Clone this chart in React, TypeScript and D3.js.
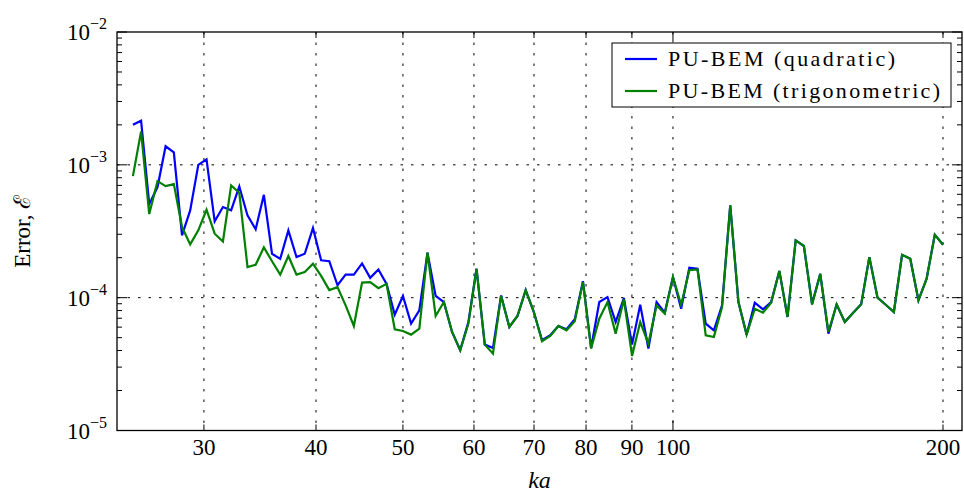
import React from "react";
import * as d3 from "d3";

// ka sample points (log-spaced)
const ka = [
  25.0, 25.53, 26.07, 26.63, 27.19, 27.77, 28.36, 28.96, 29.57, 30.2,
  30.84, 31.5, 32.17, 32.85, 33.55, 34.26, 34.99, 35.73, 36.49, 37.26,
  38.05, 38.86, 39.69, 40.53, 41.39, 42.27, 43.16, 44.08, 45.02, 45.97,
  46.95, 47.94, 48.96, 50.0, 51.06, 52.15, 53.25, 54.38, 55.54, 56.72,
  57.92, 59.15, 60.4, 61.69, 63.0, 64.33, 65.7, 67.09, 68.52, 69.97,
  71.46, 72.97, 74.52, 76.1, 77.72, 79.37, 81.05, 82.77, 84.53, 86.32,
  88.16, 90.03, 91.94, 93.89, 95.88, 97.92, 100.0, 102.12, 104.29, 106.5,
  108.77, 111.07, 113.43, 115.84, 118.3, 120.81, 123.37, 125.99, 128.67, 131.4,
  134.19, 137.03, 139.94, 142.91, 145.95, 149.04, 152.21, 155.44, 158.74, 162.11,
  165.55, 169.06, 172.65, 176.31, 180.06, 183.88, 187.78, 191.77, 195.84, 200.0,
];

const quadratic = [
  2.0e-3, 2.15e-3, 5.06e-4, 6.8e-4, 1.38e-3, 1.24e-3, 2.94e-4, 4.54e-4, 1.0e-3, 1.1e-3,
  3.75e-4, 4.81e-4, 4.54e-4, 6.87e-4, 4.16e-4, 3.27e-4, 5.95e-4, 2.14e-4, 1.96e-4, 3.21e-4,
  2.02e-4, 2.14e-4, 3.34e-4, 1.91e-4, 1.88e-4, 1.24e-4, 1.49e-4, 1.49e-4, 1.81e-4, 1.41e-4,
  1.63e-4, 1.27e-4, 7.45e-5, 1.03e-4, 6.38e-5, 8.03e-5, 2.18e-4, 1.03e-4, 9.27e-5, 5.52e-5,
  4.02e-5, 6.56e-5, 1.65e-4, 4.43e-5, 4.18e-5, 1.04e-4, 6.02e-5, 7.28e-5, 1.14e-4, 7.8e-5,
  4.78e-5, 5.21e-5, 6.12e-5, 5.78e-5, 6.87e-5, 1.33e-4, 4.18e-5, 9.27e-5, 1.01e-4, 6.56e-5,
  9.94e-5, 4.43e-5, 8.85e-5, 4.14e-5, 9.27e-5, 7.71e-5, 1.43e-4, 8.26e-5, 1.68e-4, 1.65e-4,
  6.38e-5, 5.68e-5, 8.75e-5, 4.95e-4, 9.27e-5, 5.27e-5, 9.17e-5, 8.17e-5, 9.27e-5, 1.59e-4,
  7.16e-5, 2.7e-4, 2.45e-4, 9.01e-5, 1.51e-4, 5.36e-5, 8.91e-5, 6.56e-5, 7.67e-5, 8.91e-5,
  2.02e-4, 1.0e-4, 8.85e-5, 7.8e-5, 2.1e-4, 1.96e-4, 9.55e-5, 1.39e-4, 2.98e-4, 2.5e-4,
];

const trigonometric = [
  8.22e-4, 1.78e-3, 4.26e-4, 7.54e-4, 6.92e-4, 7.16e-4, 3.4e-4, 2.52e-4, 3.21e-4, 4.59e-4,
  3.03e-4, 2.65e-4, 7.0e-4, 6.16e-4, 1.7e-4, 1.77e-4, 2.39e-4, 1.88e-4, 1.49e-4, 2.06e-4,
  1.49e-4, 1.56e-4, 1.8e-4, 1.46e-4, 1.14e-4, 1.2e-4, 8.75e-5, 6.12e-5, 1.3e-4, 1.31e-4,
  1.18e-4, 1.27e-4, 5.78e-5, 5.61e-5, 5.27e-5, 5.85e-5, 2.18e-4, 7.28e-5, 9.27e-5, 5.52e-5,
  4.02e-5, 6.38e-5, 1.65e-4, 4.43e-5, 3.79e-5, 1.03e-4, 6.02e-5, 7.28e-5, 1.14e-4, 7.8e-5,
  4.7e-5, 5.15e-5, 6.12e-5, 5.68e-5, 6.64e-5, 1.31e-4, 4.14e-5, 6.95e-5, 9.27e-5, 5.36e-5,
  9.71e-5, 3.64e-5, 6.56e-5, 4.51e-5, 8.75e-5, 7.58e-5, 1.43e-4, 8.85e-5, 1.61e-4, 1.63e-4,
  5.21e-5, 5.06e-5, 8.5e-5, 4.95e-4, 9.27e-5, 5.27e-5, 8.26e-5, 7.71e-5, 9.17e-5, 1.59e-4,
  7.16e-5, 2.7e-4, 2.45e-4, 8.85e-5, 1.51e-4, 5.52e-5, 8.91e-5, 6.56e-5, 7.67e-5, 8.91e-5,
  2.02e-4, 1.0e-4, 8.85e-5, 7.8e-5, 2.1e-4, 1.96e-4, 9.55e-5, 1.39e-4, 2.98e-4, 2.5e-4,
];

const xTicks = [30, 40, 50, 60, 70, 80, 90, 100, 200];
const yDecades = [1e-5, 1e-4, 1e-3, 1e-2];
const yExponents = ["−5", "−4", "−3", "−2"];
const seriesNames = ["PU-BEM (quadratic)", "PU-BEM (trigonometric)"];
const legendWidths = [227, 272];

const W = 964;
const H = 495;
const font = "'Liberation Serif', 'DejaVu Serif', serif";

export default function App() {
  const left = 117, right = 962, top = 32, bottom = 430.5;

  const x = d3.scaleLog().domain([24, 210]).range([left, right]);
  const y = d3.scaleLog().domain([1e-5, 1e-2]).range([bottom, top]);

  const line = d3
    .line<number>()
    .x((_, i) => x(ka[i]))
    .y(v => y(v));

  // minor ticks 2..9 in each decade
  const yMinor: number[] = [];
  [1e-5, 1e-4, 1e-3].forEach(d => {
    for (let k = 2; k <= 9; k++) yMinor.push(d * k);
  });

  const grid = { stroke: "#000", strokeWidth: 1, strokeDasharray: "2.5 8" };

  return (
    <svg
      width={W}
      height={H}
      style={{ position: "absolute", left: 0, top: 0, background: "#fff" }}
      fontFamily={font}
    >
      {/* grid */}
      {xTicks.map(t => (
        <line key={"gx" + t} x1={x(t)} x2={x(t)} y1={top} y2={bottom} {...grid} />
      ))}
      {yDecades.slice(1, 3).map(t => (
        <line key={"gy" + t} x1={left} x2={right} y1={y(t)} y2={y(t)} {...grid} />
      ))}

      {/* data */}
      <path d={line(quadratic) || ""} fill="none" stroke="#0000ff" strokeWidth={2.2} />
      <path d={line(trigonometric) || ""} fill="none" stroke="#008000" strokeWidth={2.2} />

      {/* ticks */}
      {xTicks.map(t => {
        const len = t === 100 ? 10 : 6;
        return (
          <g key={"tx" + t}>
            <line x1={x(t)} x2={x(t)} y1={bottom} y2={bottom - len} stroke="#000" strokeWidth={1} />
            <line x1={x(t)} x2={x(t)} y1={top} y2={top + len} stroke="#000" strokeWidth={1} />
          </g>
        );
      })}
      {yDecades.map(t => (
        <g key={"ty" + t}>
          <line x1={left} x2={left + 10} y1={y(t)} y2={y(t)} stroke="#000" strokeWidth={1} />
          <line x1={right} x2={right - 10} y1={y(t)} y2={y(t)} stroke="#000" strokeWidth={1} />
        </g>
      ))}
      {yMinor.map(t => (
        <g key={"tm" + t}>
          <line x1={left} x2={left + 5} y1={y(t)} y2={y(t)} stroke="#000" strokeWidth={1} />
          <line x1={right} x2={right - 5} y1={y(t)} y2={y(t)} stroke="#000" strokeWidth={1} />
        </g>
      ))}

      {/* frame */}
      <rect x={left} y={top} width={right - left} height={bottom - top} fill="none" stroke="#000" strokeWidth={1.3} />

      {/* tick labels */}
      {xTicks.map(t => (
        <text key={"lx" + t} x={x(t)} y={bottom + 24} textAnchor="middle" fontSize={23}>
          {t}
        </text>
      ))}
      {yDecades.map((t, i) => (
        <text key={"ly" + t} x={left - 10} y={y(t) + 8} textAnchor="end" fontSize={23}>
          10
          <tspan dy={-11} fontSize={16}>
            {yExponents[i]}
          </tspan>
        </text>
      ))}

      {/* axis labels */}
      <text x={(left + right) / 2} y={488} textAnchor="middle" fontSize={24} fontStyle="italic">
        ka
      </text>
      <text
        transform={`translate(30,${(top + bottom) / 2}) rotate(-90)`}
        textAnchor="middle"
        fontSize={23}
      >
        Error, <tspan fontFamily="'DejaVu Serif', serif">ℰ</tspan>
      </text>

      {/* legend */}
      <g>
        <rect x={612} y={43} width={339} height={64} fill="#fff" stroke="#000" strokeWidth={1} />
        {seriesNames.map((name, i) => (
          <g key={name}>
            <line x1={625} x2={657} y1={59 + i * 32} y2={59 + i * 32} stroke={i === 0 ? "#0000ff" : "#008000"} strokeWidth={2.2} />
            <text x={668} y={66 + i * 32} fontSize={22} textLength={legendWidths[i]} lengthAdjust="spacing">
              {name}
            </text>
          </g>
        ))}
      </g>
    </svg>
  );
}
